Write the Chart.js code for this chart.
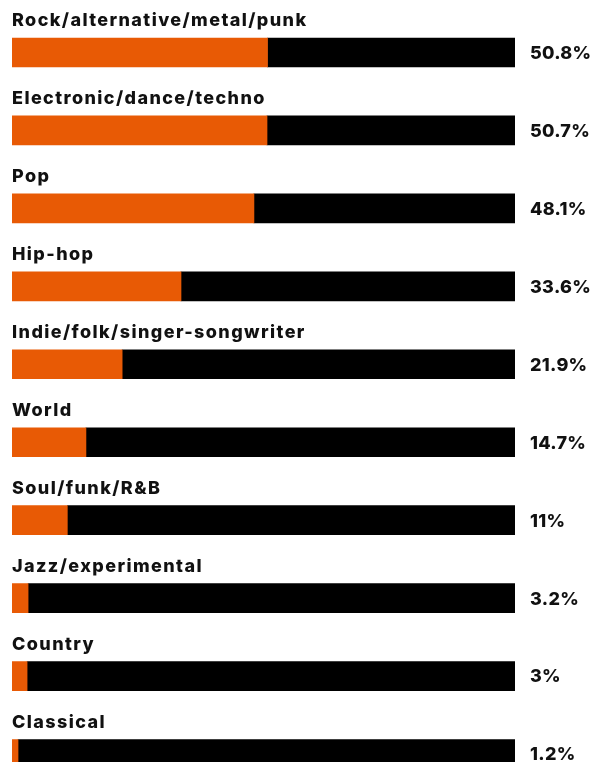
<!DOCTYPE html>
<html>
<head>
<meta charset="utf-8">
<script src="https://cdn.jsdelivr.net/npm/chart.js@4"></script>
<style>
    html, body { margin: 0; padding: 0; background: #fff; overflow: hidden; }
    #wrap { width: 593px; height: 762px; overflow: hidden; }
    #box { position: relative; width: 593px; height: 793px; }
</style>
</head>
<body>
<div id="wrap"><div id="box"><canvas id="genreChart"></canvas></div></div>
<script>
const genres = [
    'Rock/alternative/metal/punk',
    'Electronic/dance/techno',
    'Pop',
    'Hip-hop',
    'Indie/folk/singer-songwriter',
    'World',
    'Soul/funk/R&B',
    'Jazz/experimental',
    'Country',
    'Classical'
];
const shares = [50.8, 50.7, 48.1, 33.6, 21.9, 14.7, 11, 3.2, 3, 1.2];
const rest = shares.map(v => 100 - v);

const orange = '#e85a05';
const labelFont = '800 18px Inter, sans-serif';

// category names above each bar, percentages to the right
const textLabels = {
    id: 'textLabels',
    afterDatasetsDraw(chart) {
        const ctx = chart.ctx;
        const meta = chart.getDatasetMeta(0);
        const area = chart.chartArea;
        ctx.save();
        ctx.fillStyle = '#111';
        ctx.font = labelFont;
        meta.data.forEach((bar, i) => {
            ctx.letterSpacing = '1.4px';
            ctx.textAlign = 'left';
            ctx.textBaseline = 'alphabetic';
            ctx.fillText(genres[i], area.left, bar.y - 26);
            ctx.letterSpacing = '0.3px';
            ctx.textBaseline = 'middle';
            ctx.fillText(shares[i] + '%', area.right + 15, bar.y + 1);
        });
        ctx.restore();
    }
};

const ctx = document.getElementById('genreChart').getContext('2d');
new Chart(ctx, {
    type: 'bar',
    data: {
        labels: genres,
        datasets: [
            { data: shares, backgroundColor: orange, borderWidth: 0, barThickness: 29 },
            { data: rest, backgroundColor: '#000', borderWidth: 0, barThickness: 29 }
        ]
    },
    options: {
        indexAxis: 'y',
        responsive: true,
        maintainAspectRatio: false,
        animation: false,
        layout: { padding: { left: 12, right: 78, top: 13.5, bottom: 0 } },
        plugins: {
            legend: { display: false },
            tooltip: { enabled: false }
        },
        scales: {
            x: { stacked: true, min: 0, max: 100, display: false },
            y: { stacked: true, display: false }
        }
    },
    plugins: [textLabels]
});
</script>
</body>
</html>
